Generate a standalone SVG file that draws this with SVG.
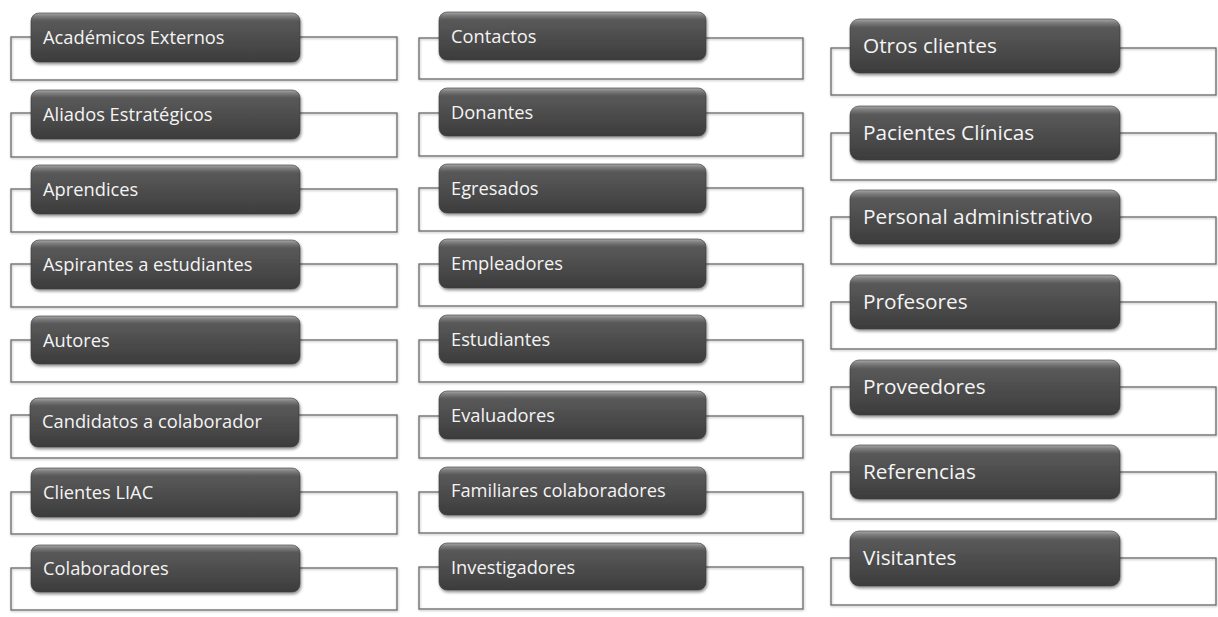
<svg xmlns="http://www.w3.org/2000/svg" width="1218" height="617" viewBox="0 0 1218 617">
<defs>
<linearGradient id="g" x1="0" y1="0" x2="0" y2="1">
<stop offset="0" stop-color="#a8a8a8"/>
<stop offset="0.07" stop-color="#7c7c7c"/>
<stop offset="0.16" stop-color="#595959"/>
<stop offset="0.6" stop-color="#4a4a4a"/>
<stop offset="1" stop-color="#3c3c3c"/>
</linearGradient>
<filter id="sh" x="-5%" y="-10%" width="112%" height="130%">
<feDropShadow dx="1" dy="2" stdDeviation="1.6" flood-color="#000" flood-opacity="0.45"/>
</filter>
<filter id="osh" x="-2%" y="-5%" width="104%" height="115%">
<feDropShadow dx="0.5" dy="1" stdDeviation="0.8" flood-color="#000" flood-opacity="0.3"/>
</filter>
</defs>
<style>
.o{fill:none;stroke:#6a6a6a;stroke-width:1.3;filter:url(#osh)}
.b{fill:url(#g);stroke:#3a3a3a;stroke-width:0.6;filter:url(#sh)}
.t{fill:#f4f4f4;font-family:"Open Sans",Lato,sans-serif;font-size:18.3px}
.t3{fill:#f4f4f4;font-family:"Open Sans",Lato,sans-serif;font-size:20.8px}
</style>
<rect width="1218" height="617" fill="#fff"/>
<g id="col1">
<g id="n-academicos"><rect class="o" x="11" y="37" width="386" height="43"/><rect class="b" x="31" y="13" width="269" height="49" rx="8"/><text class="t" x="43" y="44">Académicos Externos</text></g>
<g id="n-aliados"><rect class="o" x="11" y="113" width="386" height="44"/><rect class="b" x="31" y="90" width="269" height="49" rx="8"/><text class="t" x="43" y="121">Aliados Estratégicos</text></g>
<g id="n-aprendices"><rect class="o" x="11" y="189" width="386" height="43"/><rect class="b" x="31" y="165" width="269" height="49" rx="8"/><text class="t" x="43" y="196">Aprendices</text></g>
<g id="n-aspirantes"><rect class="o" x="11" y="264" width="386" height="43"/><rect class="b" x="31" y="240" width="269" height="49" rx="8"/><text class="t" x="43" y="271">Aspirantes a estudiantes</text></g>
<g id="n-autores"><rect class="o" x="11" y="340" width="386" height="42"/><rect class="b" x="31" y="316" width="269" height="48" rx="8"/><text class="t" x="43" y="347">Autores</text></g>
<g id="n-candidatos"><rect class="o" x="11" y="415" width="386" height="43"/><rect class="b" x="30" y="398" width="269" height="49" rx="8"/><text class="t" x="42" y="428">Candidatos a colaborador</text></g>
<g id="n-clientes"><rect class="o" x="11" y="492" width="386" height="42"/><rect class="b" x="31" y="468" width="269" height="49" rx="8"/><text class="t" x="43" y="499">Clientes LIAC</text></g>
<g id="n-colaboradores"><rect class="o" x="11" y="568" width="386" height="42"/><rect class="b" x="31" y="545" width="269" height="47" rx="8"/><text class="t" x="43" y="575">Colaboradores</text></g>
</g>
<g id="col2">
<g id="n-contactos"><rect class="o" x="419" y="38" width="384" height="41"/><rect class="b" x="439" y="12" width="267" height="48" rx="8"/><text class="t" x="451" y="43">Contactos</text></g>
<g id="n-donantes"><rect class="o" x="419" y="113" width="384" height="43"/><rect class="b" x="439" y="88" width="267" height="48" rx="8"/><text class="t" x="451" y="119">Donantes</text></g>
<g id="n-egresados"><rect class="o" x="419" y="188" width="384" height="43"/><rect class="b" x="439" y="164" width="267" height="49" rx="8"/><text class="t" x="451" y="195">Egresados</text></g>
<g id="n-empleadores"><rect class="o" x="419" y="264" width="384" height="42"/><rect class="b" x="439" y="239" width="267" height="49" rx="8"/><text class="t" x="451" y="270">Empleadores</text></g>
<g id="n-estudiantes"><rect class="o" x="419" y="340" width="384" height="42"/><rect class="b" x="439" y="315" width="267" height="48" rx="8"/><text class="t" x="451" y="346">Estudiantes</text></g>
<g id="n-evaluadores"><rect class="o" x="419" y="416" width="384" height="42"/><rect class="b" x="439" y="391" width="267" height="48" rx="8"/><text class="t" x="451" y="422">Evaluadores</text></g>
<g id="n-familiares"><rect class="o" x="419" y="492" width="384" height="41"/><rect class="b" x="439" y="467" width="267" height="48" rx="8"/><text class="t" x="451" y="497">Familiares colaboradores</text></g>
<g id="n-investigadores"><rect class="o" x="419" y="567" width="384" height="42"/><rect class="b" x="439" y="543" width="267" height="47" rx="8"/><text class="t" x="451" y="574">Investigadores</text></g>
</g>
<g id="col3">
<g id="n-otros"><rect class="o" x="831" y="48" width="385" height="47"/><rect class="b" x="850" y="19" width="270" height="54" rx="9"/><text class="t3" x="863" y="53">Otros clientes</text></g>
<g id="n-pacientes"><rect class="o" x="831" y="133" width="385" height="47"/><rect class="b" x="850" y="106" width="270" height="54" rx="9"/><text class="t3" x="863" y="140">Pacientes Clínicas</text></g>
<g id="n-personal"><rect class="o" x="831" y="217" width="385" height="47"/><rect class="b" x="850" y="190" width="270" height="54" rx="9"/><text class="t3" x="863" y="224">Personal administrativo</text></g>
<g id="n-profesores"><rect class="o" x="831" y="302" width="385" height="47"/><rect class="b" x="850" y="275" width="270" height="54" rx="9"/><text class="t3" x="863" y="309">Profesores</text></g>
<g id="n-proveedores"><rect class="o" x="831" y="387" width="385" height="48"/><rect class="b" x="850" y="360" width="270" height="55" rx="9"/><text class="t3" x="863" y="394">Proveedores</text></g>
<g id="n-referencias"><rect class="o" x="831" y="472" width="385" height="47"/><rect class="b" x="850" y="445" width="270" height="54" rx="9"/><text class="t3" x="863" y="479">Referencias</text></g>
<g id="n-visitantes"><rect class="o" x="831" y="558" width="385" height="47"/><rect class="b" x="850" y="531" width="270" height="55" rx="9"/><text class="t3" x="863" y="565">Visitantes</text></g>
</g>
</svg>
